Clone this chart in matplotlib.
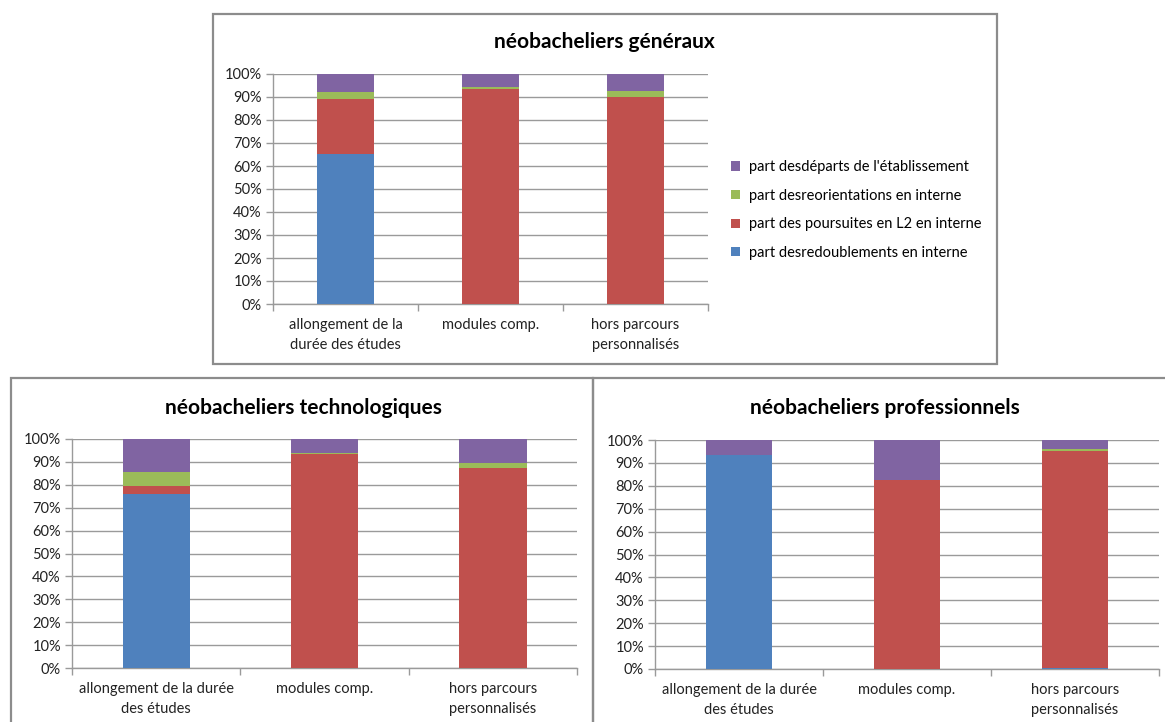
import matplotlib
matplotlib.use("Agg")
import matplotlib.pyplot as plt
from matplotlib.patches import Rectangle
import numpy as np

plt.rcParams['font.family'] = ['Lato', 'DejaVu Sans']

W, H = 1165, 722

# séries (en %), de bas en haut dans chaque barre
series_labels = ["part desredoublements en interne",
                 "part des poursuites en L2 en interne",
                 "part desreorientations en interne",
                 "part desdéparts de l'établissement"]
series_colors = ["#4F81BD", "#C0504D", "#9BBB59", "#8064A2"]

cats_top = ["allongement de la\ndurée des études", "modules comp.", "hors parcours\npersonnalisés"]
cats_bottom = ["allongement de la durée\ndes études", "modules comp.", "hors parcours\npersonnalisés"]

gen_redoublement = [65.3, 0.0, 0.0]
gen_poursuite = [24.0, 93.5, 89.9]
gen_reorientation = [2.8, 1.0, 2.9]
gen_depart = [7.9, 5.5, 7.2]

tech_redoublement = [75.8, 0.0, 0.0]
tech_poursuite = [3.6, 93.3, 87.5]
tech_reorientation = [6.3, 0.8, 2.1]
tech_depart = [14.3, 5.9, 10.4]

pro_redoublement = [93.6, 0.0, 0.3]
pro_poursuite = [0.0, 82.6, 95.1]
pro_reorientation = [0.0, 0.0, 0.5]
pro_depart = [6.4, 17.4, 4.1]

yticks = [0, 10, 20, 30, 40, 50, 60, 70, 80, 90, 100]

GRID = "#9a9a9a"
BORDER = "#8c8c8c"


def px_box(x0, y0, x1, y1):
    # pixels (origine en haut à gauche) -> fraction de figure
    return [x0 / W, 1 - y1 / H, (x1 - x0) / W, (y1 - y0) / H]


def draw_chart(ax, cats, data, width):
    x = np.arange(len(cats))
    bottom = np.zeros(len(cats))
    bars = []
    for vals, lab, col in zip(data, series_labels, series_colors):
        b = ax.bar(x, vals, width, bottom=bottom, color=col, label=lab, zorder=3)
        bars.append(b)
        bottom += np.array(vals)
    ax.set_xlim(-0.5, len(cats) - 0.5)
    ax.set_ylim(0, 100)
    ax.set_yticks(yticks)
    ax.set_yticklabels([f"{v}%" for v in yticks], fontsize=10.5, color="#222222")
    ax.set_xticks(x)
    ax.set_xticklabels(cats, fontsize=10.5, color="#222222", linespacing=1.55)
    ax.set_xticks(np.arange(-0.5, len(cats)), minor=True)
    ax.tick_params(axis="x", which="major", length=0, pad=10)
    ax.tick_params(axis="x", which="minor", length=5, color=GRID, width=1)
    ax.tick_params(axis="y", length=5, color=GRID, width=1, pad=3)
    ax.yaxis.grid(True, color=GRID, linewidth=1, zorder=0)
    ax.set_axisbelow(True)
    for s in ["top", "right"]:
        ax.spines[s].set_visible(False)
    for s in ["left", "bottom"]:
        ax.spines[s].set_color(GRID)
        ax.spines[s].set_linewidth(1)
    return bars


fig = plt.figure(figsize=(W / 100, H / 100), dpi=100)

# cadres des graphiques
for (x0, y0, x1, y1) in [(213, 14, 997, 364), (11, 378, 593, 730), (593, 378, 1172, 730)]:
    fig.patches.append(Rectangle((x0 / W, 1 - y1 / H), (x1 - x0) / W, (y1 - y0) / H,
                                 transform=fig.transFigure, fill=False,
                                 edgecolor=BORDER, linewidth=1.6))

ax1 = fig.add_axes(px_box(273, 74, 708, 304))
bars = draw_chart(ax1, cats_top, [gen_redoublement, gen_poursuite, gen_reorientation, gen_depart], 0.39)
fig.text(604 / W, 1 - 42 / H, "néobacheliers généraux", ha="center", va="center",
         fontsize=15, fontweight="bold")
fig.legend(handles=bars[::-1], labels=series_labels[::-1], loc="center left",
           bbox_to_anchor=(718 / W, 1 - 210 / H), frameon=False, fontsize=10.5,
           handlelength=0.6, handleheight=0.6, handletextpad=0.6, labelspacing=1.0)

ax2 = fig.add_axes(px_box(72, 439, 577, 668))
draw_chart(ax2, cats_bottom, [tech_redoublement, tech_poursuite, tech_reorientation, tech_depart], 0.40)
fig.text(303 / W, 1 - 408 / H, "néobacheliers technologiques", ha="center", va="center",
         fontsize=15, fontweight="bold")

ax3 = fig.add_axes(px_box(655, 440, 1159, 669))
draw_chart(ax3, cats_bottom, [pro_redoublement, pro_poursuite, pro_reorientation, pro_depart], 0.39)
fig.text(885 / W, 1 - 408 / H, "néobacheliers professionnels", ha="center", va="center",
         fontsize=15, fontweight="bold")

fig.savefig("out.png", dpi=100)
